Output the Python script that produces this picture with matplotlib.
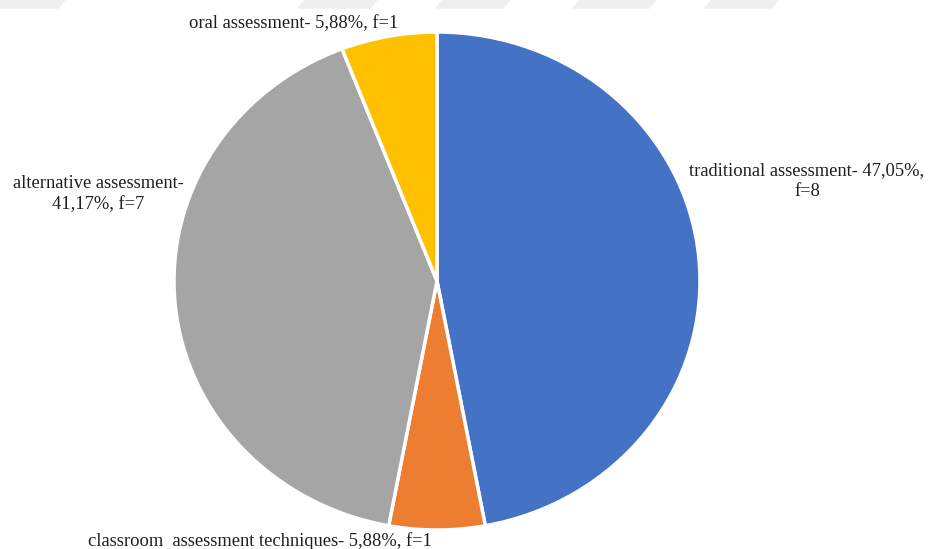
import matplotlib.pyplot as plt
from matplotlib.patches import Polygon

# Data
labels = ['traditional assessment- 47,05%,\nf=8',
          'classroom  assessment techniques- 5,88%, f=1',
          'alternative assessment-\n41,17%, f=7',
          'oral assessment- 5,88%, f=1']
freq = [8, 1, 7, 1]
colors = ['#4472C4', '#ED7D31', '#A5A5A5', '#FFC000']

W, H = 929, 549
cx, cy = 437, 281      # pie centre (px, from top)
rx, ry = 263, 249      # pie radii (px) - slightly stretched horizontally

fig = plt.figure(figsize=(W / 100, H / 100), dpi=100)
ax = fig.add_axes([0, 0, 1, 1])

ax.pie(freq, colors=colors, startangle=90, counterclock=False, radius=1,
       wedgeprops=dict(edgecolor='white', linewidth=2.5))
ax.set_aspect('auto')
ax.set_xlim(-cx / rx, (W - cx) / rx)
ax.set_ylim(-(H - cy) / ry, cy / ry)
ax.axis('off')

# faint watermark strip at the top
for x0, x1 in [(0, 65), (305, 377), (443, 510), (580, 656), (712, 778)]:
    fig.patches.append(Polygon([(x0 / W, 1), (x1 / W, 1), ((x1 - 7) / W, 1 - 8 / H),
                                ((x0 - 7) / W, 1 - 8 / H)], closed=True,
                               transform=fig.transFigure, color='#EFEFEF', zorder=0))

font = dict(family='Liberation Serif', fontsize=13.3, color='#1E1E1E')
pos = [(807, 181, 'center'), (260, 541, 'center'), (98, 194, 'center'), (294, 24, 'center')]
for lab, (x, y, ha) in zip(labels, pos):
    fig.text(x / W, 1 - y / H, lab, ha=ha, va='center', multialignment='center',
             linespacing=1.35, **font)

fig.savefig('out.png', dpi=100)
